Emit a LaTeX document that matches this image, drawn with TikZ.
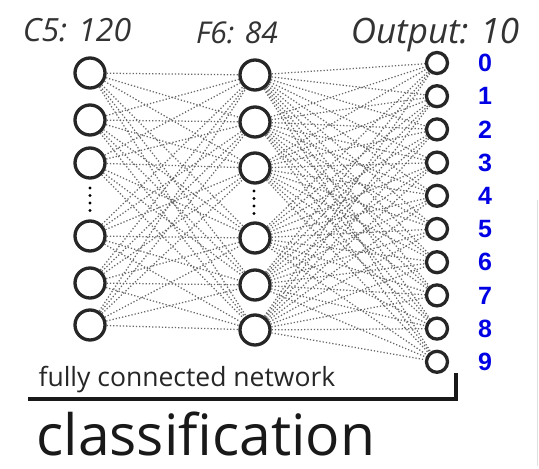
\documentclass[tikz,border=0pt]{standalone}
\usepackage{fontspec}
\newfontfamily\handfont{Open Sans}
\newfontfamily\labelfont{Liberation Sans}
\begin{document}
\begin{tikzpicture}[x=1pt,y=-1pt,
  neuron/.style={circle,draw=black!85,line width=3.3pt,inner sep=0pt,minimum size=#1},
  link/.style={draw=black!60,line width=1.25pt,dotted},
  digit/.style={text=blue!90!black,font=\labelfont\bfseries\fontsize{25}{25}\selectfont,anchor=center},
  title/.style={font=\handfont\itshape\fontsize{32}{32}\selectfont,text=black!80,anchor=base},
  vdots/.style={circle,fill=black,inner sep=0pt,minimum size=3.4pt}]
\useasboundingbox (0,0) rectangle (539,469);
\fill[white] (0,0) rectangle (539,469);

% layer titles
\node[title] (t1) at (77,41) {C5: 120};
\node[title,font=\handfont\itshape\fontsize{30}{30}\selectfont] (t2) at (237,43) {F6: 84};
\node[title,font=\handfont\itshape\fontsize{35}{35}\selectfont] (t3) at (435,43) {Output: 10};

% C5 layer
\foreach \i/\y in {1/73,2/120,3/163,4/236,5/283,6/325}
  \node[neuron=30pt] (a\i) at (90,\y) {};
% F6 layer
\foreach \i/\y in {1/75,2/122,3/168,4/238,5/285,6/330}
  \node[neuron=30pt] (b\i) at (255,\y) {};
% output layer
\foreach \i in {0,...,9}
  \node[neuron=21pt] (c\i) at (437,{63+\i*33.2}) {};

% ellipsis dots in the hidden columns
\foreach \y [count=\k] in {188,195.5,203,210.5} {
  \node[vdots] (da\k) at (90,\y) {};
  \node[vdots] (db\k) at (254,\y+3) {};
}

% full connections
\foreach \i in {1,...,6}
  \foreach \j in {1,...,6}
    \draw[link] (a\i) -- (b\j);
\foreach \i in {1,...,6}
  \foreach \j in {0,...,9}
    \draw[link] (b\i) -- (c\j);

% class labels
\foreach \i in {0,...,9}
  \node[digit] (l\i) at (485,{63+\i*33.2}) {\i};

% bracket and captions
\coordinate (bl) at (28,399);
\coordinate (br) at (456,399);
\coordinate (bt) at (456,373);
\draw[line width=3.2pt,black!90] (bl) -- (br) -- (bt);
\node[font=\handfont\fontsize{26.5}{26.5}\selectfont,anchor=base west,text=black!85] (fc) at (35,386) {fully connected network};
\node[font=\handfont\fontsize{57}{57}\selectfont,anchor=base west,text=black!90] (cl) at (33,455) {classification};

% faint frame edge
\coordinate (e1) at (537.5,200);
\coordinate (e2) at (537.5,466);
\draw[black!12,line width=1pt] (e1) -- (e2);
\end{tikzpicture}
\end{document}
